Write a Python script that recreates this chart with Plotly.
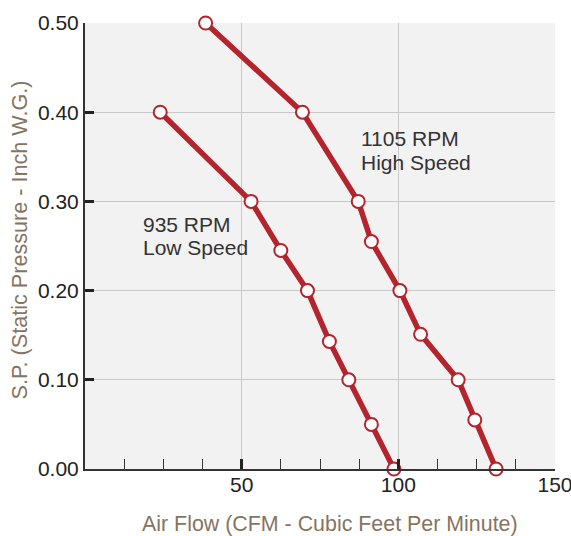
import plotly.graph_objects as go

low_x = [24, 53, 62.5, 71, 78, 84.2, 91.4, 98.6]
low_y = [0.40, 0.30, 0.245, 0.20, 0.143, 0.10, 0.05, 0.0]
high_x = [38.5, 69.4, 87.2, 91.4, 100.5, 107.1, 119.1, 124.4, 131.2]
high_y = [0.50, 0.40, 0.30, 0.255, 0.20, 0.151, 0.10, 0.055, 0.0]
label_lines = [["935 RPM", "Low Speed"], ["1105 RPM", "High Speed"]]
label_pos = [(18, 0.261), (87.5, 0.357)]
x_ticks = [50, 100, 150]
y_ticks = [0.0, 0.1, 0.2, 0.3, 0.4, 0.5]

RED = "#b3242d"
FONT = "Liberation Sans, Arial, sans-serif"
BROWN = "#85745f"
FS = 21

fig = go.Figure()
for xs, ys in [(low_x, low_y), (high_x, high_y)]:
    fig.add_trace(go.Scatter(
        x=xs, y=ys, mode="lines+markers",
        line=dict(color=RED, width=5.5),
        marker=dict(size=13, color="white", line=dict(color=RED, width=2)),
        showlegend=False, cliponaxis=False,
    ))

for lines, (ax, ay) in zip(label_lines, label_pos):
    for i, t in enumerate(lines):
        fig.add_annotation(x=ax, y=ay, text=t, showarrow=False, xanchor="left",
                           yanchor="middle", align="left", yshift=11.7 - 23.4 * i,
                           font=dict(size=FS, color="#333333", family=FONT))

fig.add_annotation(xref="paper", yref="paper", x=0.522, y=-0.124,
                   text="Air Flow (CFM - Cubic Feet Per Minute)", showarrow=False,
                   xanchor="center", yanchor="middle",
                   font=dict(size=21.4, color=BROWN, family=FONT))
fig.add_annotation(xref="paper", yref="paper", x=-0.140, y=0.513,
                   text="S.P. (Static Pressure - Inch W.G.)", showarrow=False, textangle=-90,
                   xanchor="center", yanchor="middle",
                   font=dict(size=21.6, color=BROWN, family=FONT))

fig.update_layout(
    width=571, height=536,
    margin=dict(l=85, r=16, t=23, b=67),
    paper_bgcolor="white", plot_bgcolor="#f2f2f2",
    font=dict(family=FONT, size=FS, color="#222222"),
)
fig.update_xaxes(
    range=[0, 150], tickvals=x_ticks, ticktext=[str(v) for v in x_ticks],
    showgrid=True, gridcolor="#c8c8c8", gridwidth=1,
    zeroline=False, showline=True, linecolor="#333333", linewidth=2,
    ticks="inside", ticklen=10, tickwidth=2.5, tickcolor="#222222",
    minor=dict(dtick=12.5, tick0=0, ticks="inside", ticklen=10, tickwidth=1, tickcolor="#333333", showgrid=False),
    automargin=False, ticklabelstandoff=-4, ticklabeloverflow="allow",
    tickfont=dict(size=FS, color="#222222"),
)
fig.update_yaxes(
    range=[0, 0.5], tickvals=y_ticks, tickformat=".2f", showgrid=True, gridcolor="#c8c8c8", gridwidth=1,
    zeroline=False, showline=True, linecolor="#333333", linewidth=2,
    ticks="inside", ticklen=9, tickwidth=2.5, tickcolor="#222222",
    automargin=False, ticklabeloverflow="allow",
    tickfont=dict(size=FS, color="#222222"),
)

fig.write_html("out.html", config={"displayModeBar": False},
               post_script="document.body.style.margin='0';document.body.style.overflow='hidden';")
